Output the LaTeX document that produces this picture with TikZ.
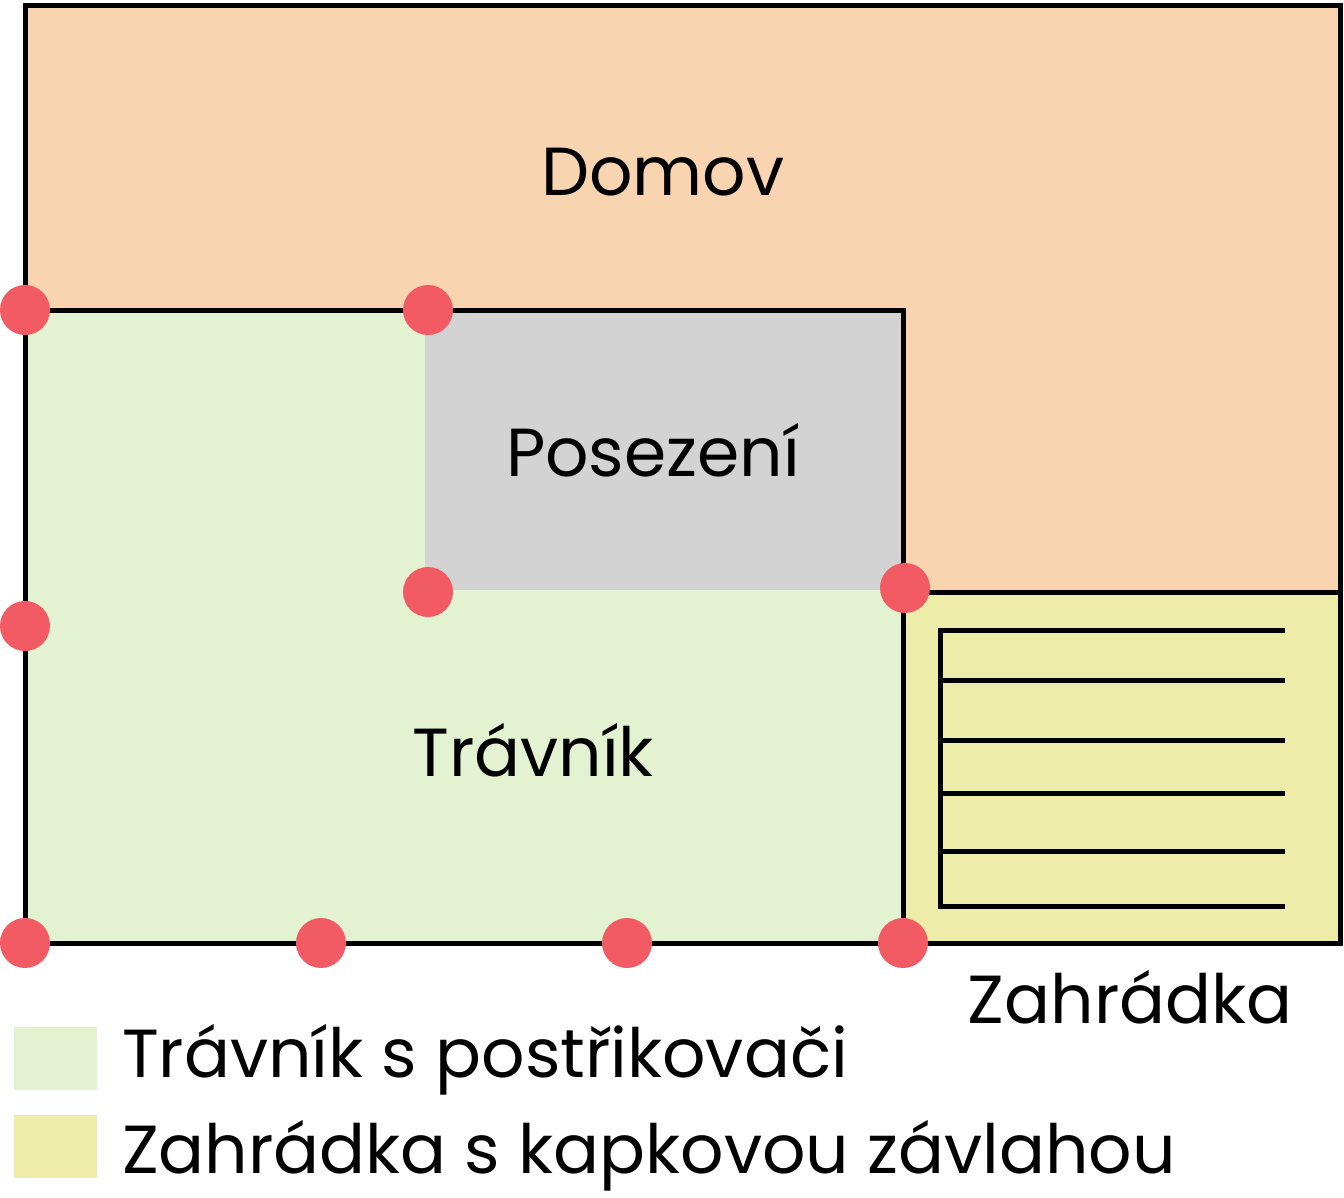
\documentclass[tikz,border=0pt]{standalone}
\usepackage{fontspec}
\setmainfont{Poppins}
\definecolor{dom}{HTML}{F8D4B0}
\definecolor{trava}{HTML}{E3F3D2}
\definecolor{sed}{HTML}{D3D3D3}
\definecolor{zah}{HTML}{EDEDA9}
\definecolor{dot}{HTML}{F25A64}
\begin{document}
\begin{tikzpicture}[x=1pt,y=-1pt,
  lbl/.style={font=\fontsize{68}{76}\selectfont,inner sep=0pt},
  sprk/.style={circle,fill=dot,minimum size=50pt,inner sep=0pt},
  edge/.style={line width=5pt}]
\useasboundingbox (0,0) rectangle (1344,1197);
\fill[dom] (25,5) -- (1340,5) -- (1340,592) -- (903,592) -- (903,310) -- (25,310) -- cycle;
\fill[trava] (25,310) rectangle (903,943);
\fill[sed] (425,310) rectangle (903,590);
\fill[zah] (903,592) rectangle (1340,943);
\draw[edge] (25,5) rectangle (1340,943);
\draw[edge] (25,310) -- (903,310) -- (903,943);
\draw[edge] (903,592) -- (1340,592);
\draw[edge] (1285,630) -- (940,630) -- (940,906) -- (1285,906);
\foreach \y in {680,740,793,851} \draw[edge] (940,\y) -- (1285,\y);
\node[sprk] (d1) at (25,310) {};
\node[sprk] (d2) at (428,310) {};
\node[sprk] (d3) at (25,626) {};
\node[sprk] (d4) at (428,592) {};
\node[sprk] (d5) at (905,588) {};
\node[sprk] (d6) at (25,943) {};
\node[sprk] (d7) at (321,943) {};
\node[sprk] (d8) at (627,943) {};
\node[sprk] (d9) at (903,943) {};
\node[lbl] (domov) at (663,172) {Domov};
\node[lbl] (pos) at (653,450) {Posezení};
\node[lbl] (trav) at (533,750) {Trávník};
\node[lbl] (zahr) at (1130,997) {Zahrádka};
\fill[trava] (14,1027) rectangle (97,1090);
\fill[zah] (14,1115) rectangle (97,1178);
\node[lbl,anchor=west] (l1) at (122,1060) {Trávník s postřikovači};
\node[lbl,anchor=west] (l2) at (122,1156) {Zahrádka s kapkovou závlahou};
\end{tikzpicture}
\end{document}
